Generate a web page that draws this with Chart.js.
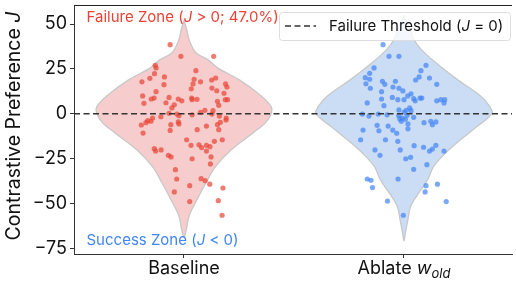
<!DOCTYPE html>
<html>
<head>
<meta charset="utf-8">
<script src="https://cdn.jsdelivr.net/npm/chart.js@4.4.1/dist/chart.umd.min.js"></script>
<style>
  html, body { margin: 0; padding: 0; background: #fff; }
  #wrap { width: 516px; height: 282px; }
</style>
</head>
<body>
<div id="wrap"><canvas id="violinChart" width="516" height="282"></canvas></div>
<script>
// categories and axis ticks
const categories = ["Baseline", "Ablate"];
const yTicks = [50, 25, 0, -25, -50, -75];
const threshold = 0;

// violin outlines: value levels and half widths (x units)
const baseProfileY = [52, 46.6, 41, 34, 30, 25, 19, 10, 4, 0, -5, -10.6, -20, -29.4, -38.5, -48, -57, -65, -69];
const baseProfileW = [0, 0.013, 0.024, 0.054, 0.11, 0.16, 0.25, 0.35, 0.396, 0.396, 0.37, 0.315, 0.216, 0.144, 0.1, 0.059, 0.023, 0.01, 0];
const ablateProfileY = [55, 51, 46.6, 42, 36, 28.5, 19, 10, 4, 0, -7, -14.5, -21.8, -29.4, -36.8, -44, -51.7, -59, -66, -71];
const ablateProfileW = [0, 0.012, 0.03, 0.042, 0.077, 0.144, 0.243, 0.347, 0.39, 0.4, 0.333, 0.257, 0.19, 0.135, 0.108, 0.068, 0.03, 0.018, 0.007, 0];

// jittered samples: horizontal jitter and J value
const baseJitter = [-0.063, -0.014, 0.135, -0.131, -0.127, -0.134, -0.155, -0.191, -0.089, -0.091, 0.054, 0.046, 0.075, 0.126, 0.144, 0.041, 0.033, 0.127, 0.149, 0.189, 0.195, 0.182, -0.127, -0.188, -0.149, -0.136, -0.182, -0.068, -0.082, -0.026, -0.010, 0.035, 0.037, 0.059, 0.152, 0.158, 0.188, 0.198, -0.044, -0.055, 0.132, 0.095, 0.075, -0.068, -0.032, -0.023, 0.037, 0.127, -0.105, -0.143, -0.165, -0.150, -0.194, -0.173, -0.060, -0.026, -0.023, 0.102, 0.161, 0.192, 0.191, 0.152, 0.165, -0.186, -0.063, 0.060, 0.158, 0.174, 0.138, 0.012, 0.032, 0.068, 0.080, 0.102, 0.118, 0.102, -0.135, -0.129, -0.104, -0.071, -0.059, 0.037, 0.123, 0.120, -0.039, -0.033, 0.078, 0.096, 0.117, 0.026, 0.177, -0.044, 0.026, 0.156, 0.173];
const baseValues = [38.5, 32.0, 32.0, 27.0, 25.5, 22.3, 19.7, 17.8, 20.5, 16.2, 24.0, 19.2, 17.8, 18.8, 19.9, 16.6, 13.9, 14.3, 12.8, 16.6, 14.9, 11.4, 12.3, 9.9, 8.2, 8.7, 5.8, 9.1, 6.1, 8.2, 7.2, 8.7, 7.8, 8.0, 6.9, 4.7, 7.8, 7.8, 5.0, 3.2, 1.7, 1.9, 0.8, 0.2, -0.2, -1.1, -0.6, -0.2, -1.7, -2.4, -3.9, -4.2, -6.3, -5.0, -6.1, -4.6, -5.7, -6.9, -1.3, -2.4, -3.5, -6.1, -4.8, -10.8, -9.3, -8.9, -8.9, -14.5, -15.4, -14.5, -17.6, -17.3, -18.9, -17.6, -18.4, -20.8, -19.5, -20.8, -20.2, -23.2, -24.1, -25.1, -24.1, -28.0, -31.2, -36.4, -36.2, -37.3, -39.3, -40.1, -41.4, -43.6, -49.0, -48.5, -56.6];
const ablateJitter = [-0.095, -0.068, -0.023, 0.100, 0.077, -0.136, -0.156, -0.176, -0.156, -0.173, -0.153, -0.098, -0.087, -0.039, -0.050, -0.023, -0.005, 0.053, 0.069, 0.116, 0.149, -0.102, -0.102, -0.053, -0.028, 0.000, 0.017, 0.032, 0.044, 0.051, 0.073, 0.081, 0.149, 0.168, 0.185, 0.182, -0.167, -0.091, 0.026, 0.032, -0.023, 0.001, 0.010, -0.189, -0.159, -0.117, -0.077, -0.024, -0.019, -0.008, 0.006, 0.014, 0.044, -0.012, 0.018, -0.122, -0.072, 0.091, 0.122, 0.145, 0.129, -0.186, -0.114, -0.051, -0.033, 0.018, -0.197, -0.084, -0.028, 0.046, 0.089, 0.145, 0.129, 0.116, 0.182, -0.132, -0.109, -0.017, 0.008, 0.030, 0.104, 0.044, -0.167, -0.150, -0.143, -0.027, 0.100, 0.152, 0.096, -0.075, 0.192, -0.003];
const ablateValues = [38.5, 32.0, 32.0, 27.0, 24.0, 25.5, 22.5, 20.1, 19.2, 16.7, 14.2, 18.1, 16.4, 18.1, 14.9, 14.2, 12.7, 18.8, 20.5, 19.9, 16.4, 12.3, 8.2, 9.1, 7.8, 7.8, 9.9, 11.1, 8.4, 7.2, 8.7, 8.7, 7.2, 7.8, 7.8, 6.0, 6.0, 4.5, 3.2, 1.7, 2.1, 0.9, 1.9, -0.2, -1.3, -0.2, -0.6, -1.1, -2.9, -2.4, -3.1, -0.9, -2.0, -4.2, -5.7, -6.5, -6.9, -5.0, -4.2, -4.6, -6.1, -9.1, -9.5, -9.1, -10.9, -8.4, -14.5, -14.5, -15.4, -17.8, -18.7, -17.6, -19.7, -20.8, -20.8, -20.2, -23.2, -20.2, -25.1, -24.3, -28.4, -31.0, -36.4, -37.1, -41.2, -36.4, -40.1, -39.3, -43.6, -48.7, -49.0, -56.6];

const RED = "#EA4335";
const BLUE = "#4285F4";
const FONT = "Inter";

function violinOutline(pos, ys, ws) {
  const right = ys.map((y, i) => ({ x: pos + ws[i], y: y }));
  const left = ys.map((y, i) => ({ x: pos - ws[i], y: y })).reverse();
  return right.concat(left.slice(1));
}

function samples(pos, jit, vals) {
  return vals.map((v, i) => ({ x: pos + jit[i], y: v }));
}

// draws category labels, y title, zone notes, top spine and the legend box
const decorations = {
  id: "decorations",
  afterDraw(chart) {
    const ctx = chart.ctx;
    const xs = chart.scales.x;
    const area = chart.chartArea;
    ctx.save();

    // top spine
    ctx.strokeStyle = "#222";
    ctx.lineWidth = 1;
    ctx.beginPath();
    ctx.moveTo(area.left, area.top + 0.5);
    ctx.lineTo(area.right, area.top + 0.5);
    ctx.stroke();

    ctx.fillStyle = "#111";
    ctx.textBaseline = "middle";

    // x labels
    ctx.font = "18px " + FONT;
    ctx.textAlign = "center";
    ctx.fillText(categories[0], xs.getPixelForValue(0), 269);
    const bx = xs.getPixelForValue(1);
    ctx.font = "18px " + FONT;
    const mainW = ctx.measureText("Ablate ").width;
    ctx.font = "italic 18px " + FONT;
    const wW = ctx.measureText("w").width;
    ctx.font = "italic 13px " + FONT;
    const subW = ctx.measureText("old").width;
    let sx = bx - (mainW + wW + subW) / 2;
    ctx.textAlign = "left";
    ctx.font = "18px " + FONT;
    ctx.fillText("Ablate ", sx, 269);
    ctx.font = "italic 18px " + FONT;
    ctx.fillText("w", sx + mainW, 269);
    ctx.font = "italic 13px " + FONT;
    ctx.fillText("old", sx + mainW + wW, 274);

    // y title
    ctx.save();
    ctx.translate(14, 126);
    ctx.rotate(-Math.PI / 2);
    ctx.font = "19.5px " + FONT;
    const t1 = "Contrastive Preference ";
    const w1 = ctx.measureText(t1).width;
    ctx.font = "italic 19.5px " + FONT;
    const w2 = ctx.measureText("J").width;
    ctx.textAlign = "left";
    ctx.font = "19.5px " + FONT;
    ctx.fillText(t1, -(w1 + w2) / 2, 0);
    ctx.font = "italic 19.5px " + FONT;
    ctx.fillText("J", -(w1 + w2) / 2 + w1, 0);
    ctx.restore();

    // zone notes
    function mixed(parts, x, y, color, size) {
      ctx.fillStyle = color;
      ctx.textAlign = "left";
      parts.forEach((p) => {
        ctx.font = (p[1] ? "italic " : "") + size + "px " + FONT;
        ctx.fillText(p[0], x, y);
        x += ctx.measureText(p[0]).width;
      });
    }
    mixed([["Failure Zone (", 0], ["J", 1], [" > 0; 47.0%)", 0]], area.left + 12.5, 17, RED, 15);
    mixed([["Success Zone (", 0], ["J", 1], [" < 0)", 0]], area.left + 12.5, 240, BLUE, 15);

    // legend
    const lx = 279.5, ly = 12.5, lw = 231, lh = 28;
    ctx.beginPath();
    ctx.roundRect(lx, ly, lw, lh, 3);
    ctx.fillStyle = "rgba(255,255,255,0.8)";
    ctx.fill();
    ctx.strokeStyle = "#dddddd";
    ctx.lineWidth = 1;
    ctx.stroke();
    ctx.beginPath();
    ctx.setLineDash([6, 3.5]);
    ctx.strokeStyle = "#333";
    ctx.lineWidth = 1.5;
    ctx.moveTo(285, 26);
    ctx.lineTo(316, 26);
    ctx.stroke();
    ctx.setLineDash([]);
    mixed([["Failure Threshold (", 0], ["J", 1], [" = 0)", 0]], 329, 26.5, "#111", 15);
    ctx.restore();
  }
};

new Chart(document.getElementById("violinChart"), {
  type: "scatter",
  data: {
    datasets: [
      {
        label: "Failure Threshold",
        data: [{ x: -0.5, y: threshold }, { x: 1.491, y: threshold }],
        showLine: true,
        borderColor: "#333",
        borderWidth: 1.5,
        borderDash: [6, 3.5],
        pointRadius: 0,
        order: 0,
      },
      {
        label: "Baseline samples",
        data: samples(0, baseJitter, baseValues),
        backgroundColor: "rgba(234,67,53,0.7)",
        borderWidth: 0,
        pointRadius: 2.6,
        order: 1,
      },
      {
        label: "Ablate samples",
        data: samples(1, ablateJitter, ablateValues),
        backgroundColor: "rgba(66,133,244,0.7)",
        borderWidth: 0,
        pointRadius: 2.6,
        order: 1,
      },
      {
        label: "Baseline violin",
        data: violinOutline(0, baseProfileY, baseProfileW),
        showLine: true,
        fill: "shape",
        tension: 0.35,
        backgroundColor: "rgba(225,90,85,0.3)",
        borderColor: "#c8c8c8",
        borderWidth: 1.3,
        pointRadius: 0,
        order: 2,
      },
      {
        label: "Ablate violin",
        data: violinOutline(1, ablateProfileY, ablateProfileW),
        showLine: true,
        fill: "shape",
        tension: 0.35,
        backgroundColor: "rgba(70,130,220,0.28)",
        borderColor: "#c8c8c8",
        borderWidth: 1.3,
        pointRadius: 0,
        order: 2,
      },
    ],
  },
  options: {
    responsive: false,
    animation: false,
    layout: { padding: { top: 5, right: 0, left: 0, bottom: 0 } },
    plugins: {
      legend: { display: false },
      tooltip: { enabled: false },
    },
    scales: {
      x: {
        min: -0.5,
        max: 1.491,
        afterBuildTicks: (s) => { s.ticks = [{ value: 0 }, { value: 1 }]; },
        afterFit: (s) => { s.height = 28; s.paddingLeft = 0; s.paddingRight = 0; },
        ticks: { display: true, callback: () => "", padding: 0 },
        grid: { drawOnChartArea: false, drawTicks: true, tickLength: 4, color: "#333" },
        border: { color: "#333", width: 1 },
      },
      y: {
        min: -78.2,
        max: 60.6,
        afterBuildTicks: (s) => { s.ticks = yTicks.map((v) => ({ value: v })); },
        afterFit: (s) => { s.width = 74; s.paddingTop = 0; s.paddingBottom = 0; },
        ticks: {
          color: "#111",
          font: { family: FONT, size: 18 },
          padding: 3,
          callback: (v) => (v < 0 ? "\u2212" + Math.abs(v) : String(v)),
        },
        grid: { drawOnChartArea: false, drawTicks: true, tickLength: 4, color: "#333" },
        border: { color: "#333", width: 1 },
      },
    },
  },
  plugins: [decorations],
});
</script>
</body>
</html>
